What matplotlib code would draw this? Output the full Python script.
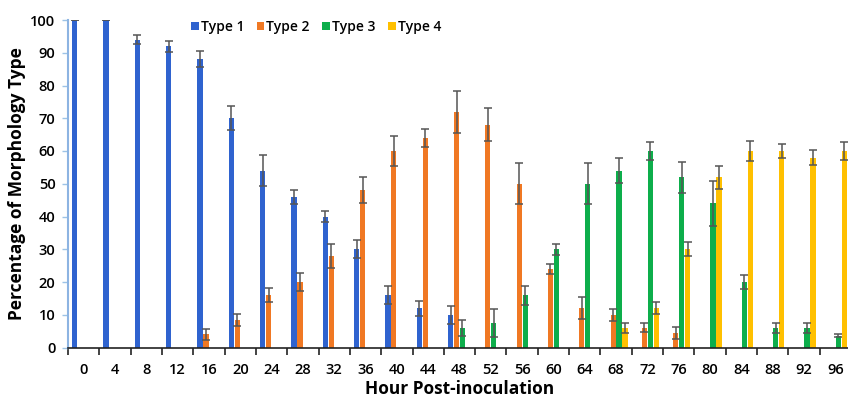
import matplotlib
matplotlib.use("Agg")
import matplotlib.pyplot as plt
import numpy as np
from matplotlib.patches import Patch

hours = [0, 4, 8, 12, 16, 20, 24, 28, 32, 36, 40, 44, 48, 52, 56, 60, 64, 68, 72, 76, 80, 84, 88, 92, 96]

type1 = [100, 100, 94, 92, 88, 70, 54, 46, 40, 30, 16, 12, 10, 0, 0, 0, 0, 0, 0, 0, 0, 0, 0, 0, 0]
type1_err = [0, 0, 1.4, 1.7, 2.4, 3.6, 4.7, 2.2, 1.7, 2.7, 2.8, 2.3, 2.7, 0, 0, 0, 0, 0, 0, 0, 0, 0, 0, 0, 0]

type2 = [0, 0, 0, 0, 4, 8.4, 16, 20, 28, 48, 60, 64, 72, 68, 50, 24, 12, 10, 6, 4.5, 0, 0, 0, 0, 0]
type2_err = [0, 0, 0, 0, 1.7, 1.7, 2.2, 2.9, 3.7, 4.0, 4.5, 2.7, 6.4, 5.0, 6.2, 1.5, 3.3, 1.8, 1.4, 1.8, 0, 0, 0, 0, 0]

type3 = [0, 0, 0, 0, 0, 0, 0, 0, 0, 0, 0, 0, 6, 7.5, 16, 30, 50, 54, 60, 52, 44, 20, 6, 6, 3.6]
type3_err = [0, 0, 0, 0, 0, 0, 0, 0, 0, 0, 0, 0, 2.4, 4.4, 2.9, 1.7, 6.3, 3.8, 2.7, 4.7, 6.8, 2.2, 1.6, 1.5, 0.5]

type4 = [0, 0, 0, 0, 0, 0, 0, 0, 0, 0, 0, 0, 0, 0, 0, 0, 0, 6, 12, 30, 52, 60, 60, 58, 60]
type4_err = [0, 0, 0, 0, 0, 0, 0, 0, 0, 0, 0, 0, 0, 0, 0, 0, 0, 1.5, 1.8, 2.1, 3.5, 3.1, 2.0, 2.4, 2.7]

series_names = ["Type 1", "Type 2", "Type 3", "Type 4"]
colors = ["#2F63CF", "#F07823", "#0DAE4B", "#FFC000"]

plt.rcParams['font.family'] = ['Open Sans', 'DejaVu Sans']

W, H = 848, 400
fig = plt.figure(figsize=(W / 100, H / 100), dpi=100)
left, right, bottom, top = 68, 851, 347.5, 20
ax = fig.add_axes([left / W, 1 - bottom / H, (right - left) / W, (bottom - top) / H])

x = np.arange(len(hours))
offsets = [-0.285, -0.095, 0.095, 0.285]
width = 0.165
data = [(type1, type1_err), (type2, type2_err), (type3, type3_err), (type4, type4_err)]
for (vals, errs), off, c in zip(data, offsets, colors):
    vals = np.array(vals, float)
    errs = np.array(errs, float)
    m = vals > 0
    ax.bar(x[m] + off, vals[m], width=width, color=c, zorder=2)
    ax.errorbar(x[m] + off, vals[m], yerr=errs[m], fmt='none', ecolor='#555555',
                elinewidth=1.1, capsize=3.0, capthick=1.1, zorder=3)

ax.set_xlim(-0.5, len(hours) - 0.5)
ax.set_ylim(0, 100)
ax.set_yticks(np.arange(0, 101, 10))
ax.set_xticks(x)
ax.set_xticklabels([str(h) for h in hours], fontsize=10.5, fontweight=600)
ax.tick_params(axis='x', length=0, pad=11)
ax.set_xticks(np.arange(-0.5, len(hours), 1), minor=True)
ax.tick_params(axis='x', which='minor', length=5, width=1.2, color='#222222', direction='out')
ax.tick_params(axis='y', length=4, width=1, color='#9DC3E6', labelsize=10.5, pad=5)
for lab in ax.get_yticklabels():
    lab.set_fontweight(600)

for s in ['top', 'right']:
    ax.spines[s].set_visible(False)
ax.spines['left'].set_color('#8DB4E2')
ax.spines['left'].set_linewidth(1.5)
ax.spines['bottom'].set_color('#222222')
ax.spines['bottom'].set_linewidth(1.2)

ax.set_ylabel("Percentage of Morphology Type", fontsize=12.5, fontweight='bold', labelpad=3)
ax.set_xlabel("Hour Post-inoculation", fontsize=12.5, fontweight='bold', labelpad=2)

handles = [Patch(facecolor=c, label=n) for c, n in zip(colors, series_names)]
fig.legend(handles=handles, loc='center', bbox_to_anchor=(316 / W, 1 - 27 / H), ncol=4,
           frameon=False, handlelength=0.55, handleheight=0.55,
           handletextpad=0.15, columnspacing=0.9, prop={'weight': 600, 'size': 10})

fig.savefig("out.png", dpi=100)
